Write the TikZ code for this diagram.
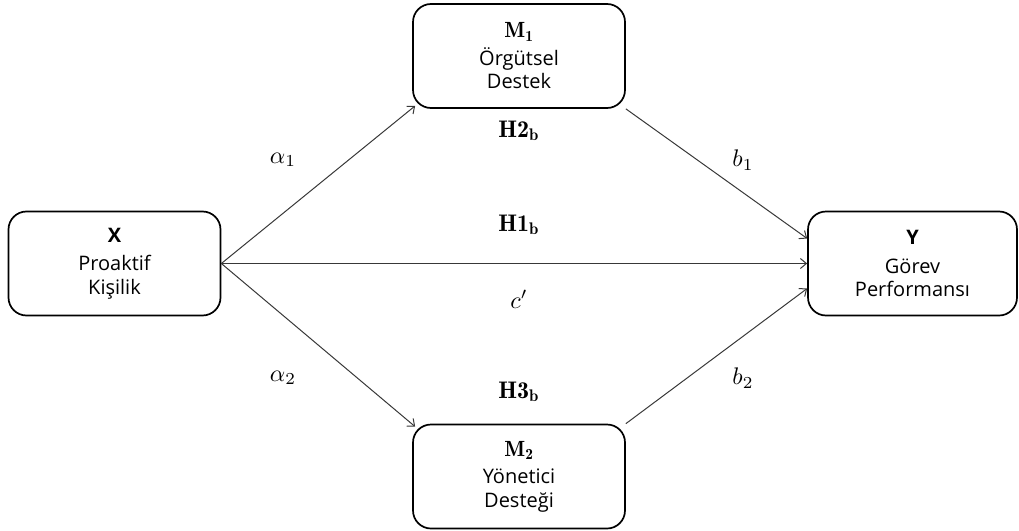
\documentclass[tikz,border=0pt]{standalone}
\usepackage{fontspec}
\newfontfamily\boxfont{Open Sans}
\usetikzlibrary{arrows.meta,calc}
\newcommand{\lbl}[1]{\scalebox{2.4}{$#1$}}
\begin{document}
\begin{tikzpicture}[x=1pt,y=-1pt,
  box/.style={draw=black,line width=1.7pt,rounded corners=18pt,minimum height=104pt,align=center,font=\boxfont\fontsize{20}{23.5}\selectfont,inner sep=0pt},
  link/.style={draw=black!78,line width=1pt,-{Straight Barb[length=6pt,width=10pt]}},
  lab/.style={inner sep=0pt}]
\useasboundingbox (0,0) rectangle (1019,530);
\node[box,minimum width=212pt] (X) at (114.5,263.5) {\textbf{X}\\[5pt]Proaktif\\Kişilik};
\node[box,minimum width=212pt] (M1) at (519,56) {\scalebox{1.1}{$\mathbf{M_1}$}\\[4pt]Örgütsel\\Destek};
\node[box,minimum width=212pt] (M2) at (519,476.5) {\scalebox{1.1}{$\mathbf{M_2}$}\\[4pt]Yönetici\\Desteği};
\node[box,minimum width=209pt] (Y) at (912.5,263.5) {\textbf{Y}\\[5pt]Görev\\Performansı};
\draw[link] (X.east) -- ($(M1.south west)+(3,-3)$);
\draw[link] (M1.south east) -- ($(Y.west)+(0,-25)$);
\draw[link] (X.east) -- (Y.west);
\draw[link] (X.east) -- ($(M2.north west)+(3,3)$);
\draw[link] (M2.north east) -- ($(Y.west)+(0,25)$);
\node[lab] (a1) at (283,160) {\lbl{\alpha_1}};
\node[lab] (b1) at (743,160) {\lbl{b_1}};
\node[lab] (h2) at (519,131) {\lbl{\mathbf{H2_b}}};
\node[lab] (h1) at (519,225) {\lbl{\mathbf{H1_b}}};
\node[lab] (c) at (519,299) {\lbl{c'}};
\node[lab] (a2) at (283,378) {\lbl{\alpha_2}};
\node[lab] (b2) at (743,378) {\lbl{b_2}};
\node[lab] (h3) at (519,392) {\lbl{\mathbf{H3_b}}};
\end{tikzpicture}
\end{document}
